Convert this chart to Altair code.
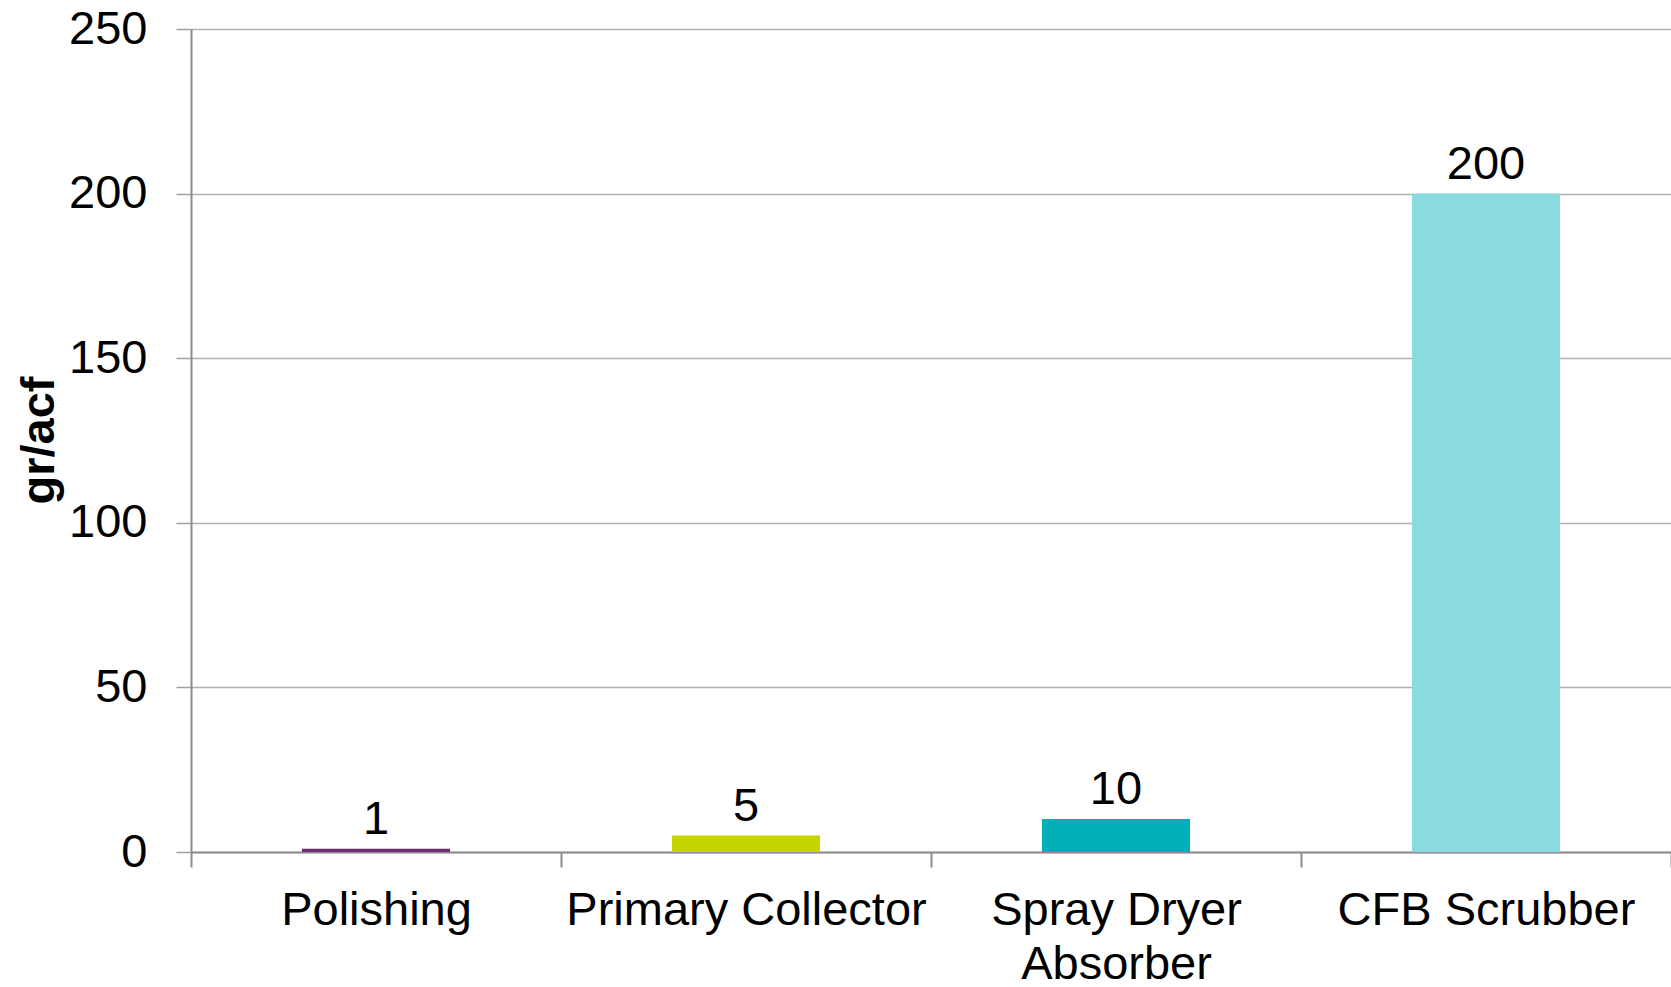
import altair as alt
import pandas as pd

# Particulate loading by equipment type
categories = ["Polishing", "Primary Collector", "Spray Dryer Absorber", "CFB Scrubber"]
values = [1, 5, 10, 200]
colors = ["#6c2a72", "#c6d400", "#00afb8", "#89dbdf"]

df = pd.DataFrame({"category": categories, "value": values})

FONT = "Liberation Sans"
SIZE = 47

x_scale = alt.Scale(domain=categories, paddingInner=0, paddingOuter=0)
y_scale = alt.Scale(domain=[0, 250], nice=False)

x_enc = alt.X(
    "category:N",
    sort=categories,
    scale=x_scale,
    axis=alt.Axis(
        title=None,
        labelAngle=0,
        labelFont=FONT,
        labelFontSize=SIZE,
        labelColor="#000000",
        labelPadding=20,
        labelLineHeight=54,
        labelLimit=0,
        labelExpr="datum.value == 'Spray Dryer Absorber' ? ['Spray Dryer', 'Absorber'] : datum.label",
        tickBand="extent",
        tickSize=15,
        tickColor="#8c8c8c",
        tickWidth=2,
        domainColor="#8c8c8c",
        domainWidth=2,
        grid=False,
    ),
)

bars = alt.Chart(df).mark_bar(width=alt.RelativeBandSize(0.4)).encode(
    x=x_enc,
    y=alt.Y(
        "value:Q",
        scale=y_scale,
        axis=alt.Axis(
            values=[0, 50, 100, 150, 200, 250],
            title="gr/acf",
            titleFont=FONT,
            titleFontSize=SIZE,
            titleFontWeight="bold",
            titleColor="#000000",
            titleAngle=270,
            titleAlign="center",
            titleBaseline="middle",
            titleX=-152,
            titleY=411,
            labelFont=FONT,
            labelFontSize=SIZE,
            labelColor="#000000",
            labelPadding=29,
            tickSize=15,
            tickColor="#a0a0a0",
            tickWidth=1.5,
            domainColor="#8c8c8c",
            domainWidth=2,
            grid=True,
            gridColor="#b0b0b0",
            gridWidth=1.5,
        ),
    ),
    color=alt.Color(
        "category:N",
        sort=categories,
        scale=alt.Scale(domain=categories, range=colors),
        legend=None,
    ),
)

labels = alt.Chart(df).mark_text(
    font=FONT, fontSize=SIZE, color="#000000", baseline="alphabetic", dy=-15
).encode(
    x=alt.X("category:N", sort=categories, scale=x_scale),
    y=alt.Y("value:Q", scale=y_scale),
    text="value:Q",
)

chart = (
    alt.layer(bars, labels)
    .properties(
        width=1480,
        height=823,
        autosize=alt.AutoSizeParams(type="none"),
        padding={"left": 191, "top": 29, "right": 0, "bottom": 135},
        background="#ffffff",
    )
    .configure_view(stroke=None)
)

chart.save("out.html", embed_options={"renderer": "svg", "actions": False})
